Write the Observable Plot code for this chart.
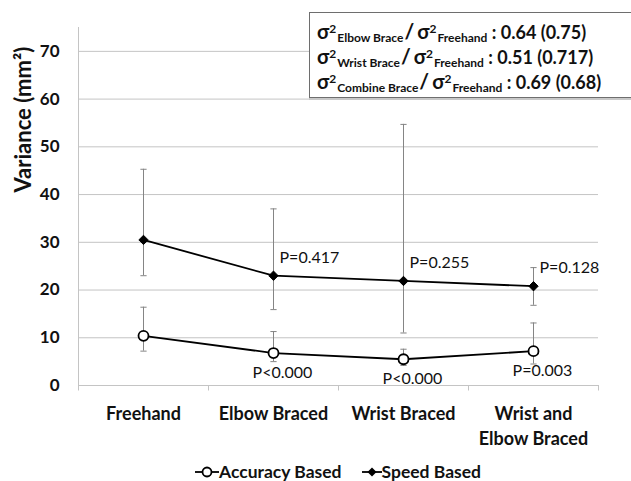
<!DOCTYPE html>
<html>
<head>
<meta charset="utf-8">
<script src="https://cdn.jsdelivr.net/npm/d3@7"></script>
<script src="https://cdn.jsdelivr.net/npm/@observablehq/plot@0.6"></script>
<style>
  html, body { margin: 0; padding: 0; background: #fff; overflow: hidden; }
  #wrap { position: relative; width: 631px; height: 481px; font-family: Lato, "Open Sans", sans-serif; }
  #stats { position: absolute; left: 309px; top: 12px; width: 340px; background: #fff;
           border: 1px solid #6e6e6e; box-shadow: 0 2px 0 #c8c8c8; padding: 5px 0 4px 7px;
           font-weight: bold; font-size: 18px; color: #111; }
  #stats .row { height: 25px; line-height: 25px; white-space: nowrap; }
  #stats .sig { font-size: 20px; }
  #stats .sl { font-size: 21px; margin: 0 3px 0 1px; }
  #stats .sup { font-size: 12px; position: relative; top: -6px; }
  #stats .sub { font-size: 12px; position: relative; top: 3px; margin-left: 1px; }
  #legend { position: absolute; left: 0; top: 460px; width: 631px; height: 24px;
            display: flex; justify-content: center; padding-left: 45px; box-sizing: border-box;
            font-weight: bold; font-size: 17.5px; color: #111; line-height: 24px; }
  #legend .item { display: flex; align-items: center; margin: 0 10px; }
</style>
</head>
<body>
<div id="wrap">
  <div id="chart"></div>
  <div id="stats"></div>
  <div id="legend"></div>
</div>
<script>
// ---- data ----
const categories = ["Freehand", "Elbow Braced", "Wrist Braced", "Wrist and\nElbow Braced"];
const accuracy   = [10.4, 6.8, 5.5, 7.2];
const accuracyHi = [16.4, 11.3, 7.6, 13.1];
const accuracyLo = [7.2, 5.0, 4.2, 4.5];
const speed      = [30.5, 23.0, 21.9, 20.8];
const speedHi    = [45.3, 37.0, 54.7, 24.7];
const speedLo    = [23.0, 15.9, 11.0, 16.8];
const accuracyP  = [null, "P<0.000", "P<0.000", "P=0.003"];
const speedP     = [null, "P=0.417", "P=0.255", "P=0.128"];
const yTicks     = [0, 10, 20, 30, 40, 50, 60, 70];
const seriesNames = ["Accuracy Based", "Speed Based"];
const ratioRows = [
  {brace: "Elbow Brace", ratio: "0.64", alt: "0.75"},
  {brace: "Wrist Brace", ratio: "0.51", alt: "0.717"},
  {brace: "Combine Brace", ratio: "0.69", alt: "0.68"}
];
const yTitle = "Variance (mm²)";

// ---- build rows ----
const idx = categories.map((_, i) => i);
const acc = idx.map(i => ({i, v: accuracy[i], lo: accuracyLo[i], hi: accuracyHi[i], p: accuracyP[i]}));
const spd = idx.map(i => ({i, v: speed[i], lo: speedLo[i], hi: speedHi[i], p: speedP[i]}));
const bounds = d3.range(-0.5, categories.length, 1);
const capHalf = 0.024;
const errColor = "#858585";
const gridColor = "#c4c4c4";

function errMarks(data) {
  return [
    Plot.ruleX(data, {x: "i", y1: "lo", y2: "hi", stroke: errColor, strokeWidth: 1}),
    Plot.link(data, {x1: d => d.i - capHalf, x2: d => d.i + capHalf, y1: "hi", y2: "hi", stroke: errColor, strokeWidth: 1}),
    Plot.link(data, {x1: d => d.i - capHalf, x2: d => d.i + capHalf, y1: "lo", y2: "lo", stroke: errColor, strokeWidth: 1})
  ];
}

const chart = Plot.plot({
  width: 631,
  height: 450,
  marginLeft: 78,
  marginRight: 33,
  marginTop: 27,
  marginBottom: 65,
  style: {fontFamily: "Lato, 'Open Sans', sans-serif", background: "transparent", color: "#111"},
  x: {type: "linear", domain: [-0.5, categories.length - 0.5]},
  y: {domain: [0, 75]},
  marks: [
    Plot.ruleY(yTicks, {stroke: gridColor, strokeWidth: 1}),
    Plot.ruleX([bounds[0]], {y1: 0, y2: 75, stroke: gridColor, strokeWidth: 1}),
    Plot.ruleX(bounds, {y1: 0, y2: -1.15, stroke: gridColor, strokeWidth: 1, clip: false}),
    Plot.axisY({ticks: yTicks, tickSize: 0, tickPadding: 19, fontSize: 17, fontWeight: "bold", label: null}),
    Plot.axisX({ticks: idx, tickFormat: i => categories[i], tickSize: 0, tickPadding: 16,
                fontSize: 18, fontWeight: "bold", lineHeight: 1.42, label: null}),
    Plot.text([yTitle], {frameAnchor: "left", rotate: -90, dx: -55, dy: -14, fontSize: 22, fontWeight: "bold", fill: "#111"}),
    ...errMarks(acc),
    ...errMarks(spd),
    Plot.line(acc, {x: "i", y: "v", stroke: "#000", strokeWidth: 1.8}),
    Plot.line(spd, {x: "i", y: "v", stroke: "#000", strokeWidth: 1.8}),
    Plot.dot(acc, {x: "i", y: "v", r: 5, fill: "#fff", stroke: "#000", strokeWidth: 1.8}),
    Plot.dot(spd, {x: "i", y: "v", r: 4.2, symbol: "diamond2", fill: "#000", stroke: "#000", strokeWidth: 1}),
    Plot.text(spd.filter(d => d.p), {x: "i", y: "v", text: "p", textAnchor: "start", dx: 6, dy: -18, fontSize: 16, fill: "#111"}),
    Plot.text(acc.filter(d => d.p), {x: "i", y: "v", text: "p", textAnchor: "middle", dx: 9, dy: 20, fontSize: 16, fill: "#111"})
  ]
});
document.getElementById("chart").appendChild(chart);

// ---- ratio box ----
const stats = document.getElementById("stats");
ratioRows.forEach(r => {
  const row = document.createElement("div");
  row.className = "row";
  row.innerHTML = `<span class="sig">σ</span><span class="sup">2</span><span class="sub">${r.brace}</span><span class="sl">/</span><span class="sig">σ</span><span class="sup">2</span><span class="sub">Freehand</span> : ${r.ratio} (${r.alt})`;
  stats.appendChild(row);
});

// ---- legend ----
const legend = document.getElementById("legend");
const accSym = `<svg width="24" height="14"><line x1="0" x2="24" y1="7" y2="7" stroke="#000" stroke-width="1.8"/><circle cx="12" cy="7" r="4.5" fill="#fff" stroke="#000" stroke-width="1.8"/></svg>`;
const spdSym = `<svg width="20" height="14"><line x1="0" x2="20" y1="7" y2="7" stroke="#000" stroke-width="1.8"/><path d="M10,2.5L14.5,7L10,11.5L5.5,7Z" fill="#000"/></svg>`;
[accSym, spdSym].forEach((sym, k) => {
  const it = document.createElement("div");
  it.className = "item";
  it.innerHTML = sym + `<span>${seriesNames[k]}</span>`;
  legend.appendChild(it);
});
</script>
</body>
</html>
